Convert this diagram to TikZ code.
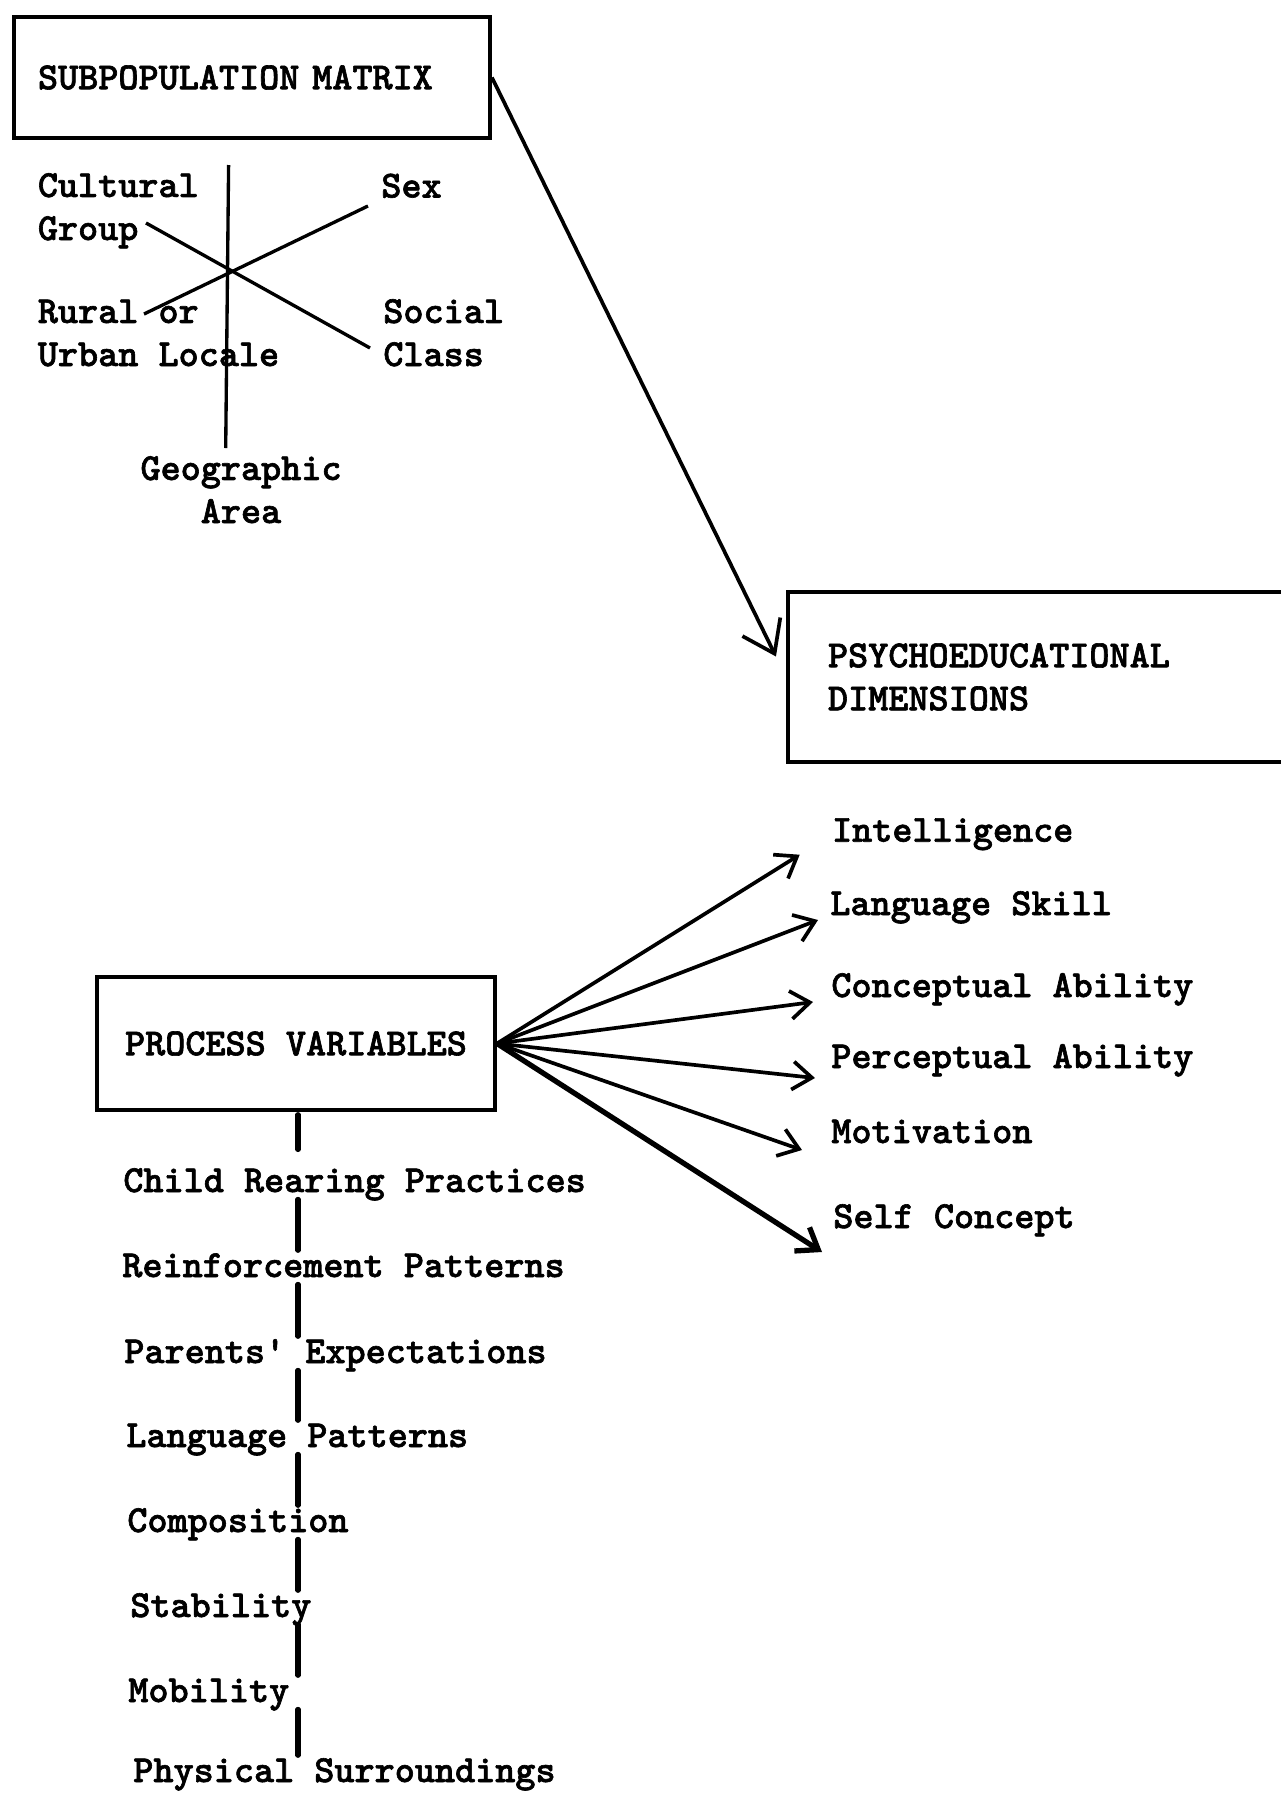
\documentclass[tikz,border=0pt]{standalone}
\usepackage{fontspec}
\newfontfamily\twfont{lmmonolt10-bold}[Extension=.otf, FakeBold=1.6]
\usetikzlibrary{arrows.meta}

\begin{document}
\begin{tikzpicture}[x=0.02cm, y=-0.02cm]
	\tikzstyle{every node}=[font=\twfont\fontsize{21.8}{24.5}\selectfont, inner sep=0pt];
	\tikzstyle{box}=[draw, line width=2.3pt];
	\tikzstyle{lbl}=[anchor=base west, text height=0.65em, text depth=0.25em];
	\tikzstyle{axis}=[line width=1.9pt];
	\tikzstyle{arr}=[line width=2.1pt, -{Straight Barb[length=11pt, width=16pt]}];
	\tikzstyle{link}=[line width=2.9pt, line cap=round];
	\useasboundingbox (0,0) rectangle (1281,1793);
	\clip (0,0) rectangle (1281,1793);
	% subpopulation matrix
	\node [box, anchor=north west, text width=8.56cm, inner xsep=0.48cm, minimum height=2.42cm, align=left] (box01) at (12,15) {SUBPOPULATION MATRIX};
	\node [anchor=base west, align=left] (c01) at (37.5,240) {Cultural\\Group};
	\node [anchor=base west] (c02) at (381,197.5) {Sex};
	\node [anchor=base west, align=left] (c03) at (37.5,366) {Rural or\\Urban Locale};
	\node [anchor=base west, align=left] (c04) at (383,366) {Social\\Class};
	\node [anchor=base, align=center] (c05) at (241,523) {Geographic\\Area};
	\coordinate (v1) at (228.6,165);
	\coordinate (v2) at (225.7,448);
	\coordinate (s1) at (368,206);
	\coordinate (s2) at (144,314);
	\coordinate (g1) at (146,223);
	\coordinate (g2) at (370,348);
	\draw [axis] (v1) -- (v2);
	\draw [axis] (s1) -- (s2);
	\draw [axis] (g1) -- (g2);
	% psychoeducational dimensions
	\node [box, anchor=west, text width=9.28cm, inner xsep=0.8cm, minimum height=3.4cm, align=left] (box02) at (786,677) {PSYCHOEDUCATIONAL\\DIMENSIONS};
	\draw [line width=2.1pt, -{Straight Barb[length=17pt, width=24pt]}, shorten >=13pt] (box01.east) -- (box02.west);
	% process variables
	\node [box, minimum width=7.96cm, minimum height=2.66cm] (box03) at (296,1043.5) {PROCESS VARIABLES};
	\node [lbl] (a01) at (831.7,841.7) {Intelligence};
	\node [lbl] (a02) at (830,915) {Language Skill};
	\node [lbl] (a03) at (831,997) {Conceptual Ability};
	\node [lbl] (a04) at (831,1068) {Perceptual Ability};
	\node [lbl] (a05) at (831,1143) {Motivation};
	\node [lbl] (a06) at (833,1228) {Self Concept};
	\draw [arr] (box03.east) -- ([shift={(-32,13)}]a01.base west);
	\draw [arr] (box03.east) -- ([shift={(-12,5)}]a02.base west);
	\draw [arr] (box03.east) -- ([shift={(-18,5)}]a03.base west);
	\draw [arr] (box03.east) -- ([shift={(-16,10)}]a04.base west);
	\draw [arr] (box03.east) -- ([shift={(-29,7)}]a05.base west);
	\draw [arr, line width=3pt] (box03.east) -- ([shift={(-11,24)}]a06.base west);
	\node [lbl] (p01) at (123,1192) {Child Rearing Practices};
	\node [lbl] (p02) at (122,1277) {Reinforcement Patterns};
	\node [lbl] (p03) at (124,1363) {Parents' Expectations};
	\node [lbl] (p04) at (126,1447) {Language Patterns};
	\node [lbl] (p05) at (127,1532) {Composition};
	\node [lbl] (p06) at (130,1617) {Stability};
	\node [lbl] (p07) at (128,1702) {Mobility};
	\node [lbl] (p08) at (133,1782) {Physical Surroundings};
	\coordinate (spine) at (298,0);
	\draw [link, shorten <=1.5pt, shorten >=17.5pt] (spine |- box03.south) -- (spine |- p01.north);
	\draw [link, shorten <=1.5pt, shorten >=8.5pt] (spine |- p01.south) -- (spine |- p02.north);
	\draw [link, shorten <=1.5pt, shorten >=8.5pt] (spine |- p02.south) -- (spine |- p03.north);
	\draw [link, shorten <=1.5pt, shorten >=8.5pt] (spine |- p03.south) -- (spine |- p04.north);
	\draw [link, shorten <=1.5pt, shorten >=8.5pt] (spine |- p04.south) -- (spine |- p05.north);
	\draw [link, shorten <=1.5pt, shorten >=8.5pt] (spine |- p05.south) -- (spine |- p06.north);
	\draw [link, shorten <=1.5pt, shorten >=8.5pt] (spine |- p06.south) -- (spine |- p07.north);
	\draw [link, shorten <=1.5pt, shorten >=8.5pt] (spine |- p07.south) -- (spine |- p08.north);
\end{tikzpicture}
\end{document}
